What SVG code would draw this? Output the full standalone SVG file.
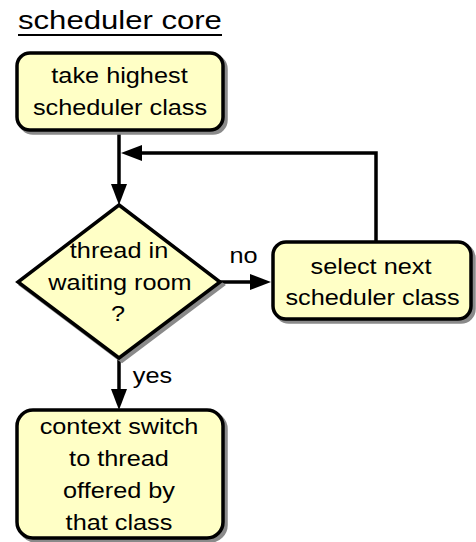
<svg xmlns="http://www.w3.org/2000/svg" width="476" height="542" viewBox="0 0 476 542">
  <defs>
    <marker id="arrow" markerUnits="userSpaceOnUse" markerWidth="21" markerHeight="16" refX="0" refY="8" orient="auto">
      <path d="M0,0 L21,8 L0,16 Z" fill="#000"/>
    </marker>
    <style>
      text { font-family: "Liberation Sans", Arial, sans-serif; font-size: 22px; fill: #000; }
      .c { text-anchor: middle; }
      .box { fill: #ffffc6; stroke: #000; stroke-width: 3.5; }
      .shadow { fill: #8a8a8a; stroke: #8a8a8a; stroke-width: 3.5; }
      .edge { fill: none; stroke: #000; stroke-width: 3.5; }
    </style>
  </defs>
  <rect width="476" height="542" fill="#fff"/>

  <g id="title">
    <text transform="translate(18 29) scale(1.244 1)" style="font-size:25px">scheduler core</text>
    <line x1="18" y1="35" x2="222" y2="35" stroke="#000" stroke-width="2"/>
  </g>

  <g id="connectors">
    <path class="edge" d="M119,131 V184" marker-end="url(#arrow)"/>
    <path class="edge" d="M376,242 V153 H142" marker-end="url(#arrow)"/>
    <path class="edge" d="M220,282 H250" marker-end="url(#arrow)"/>
    <path class="edge" d="M119,358 V389" marker-end="url(#arrow)"/>
  </g>

  <g id="take-highest">
    <rect class="shadow" x="20" y="56" width="206" height="77" rx="13"/>
    <rect class="box" x="17" y="53" width="206" height="77" rx="13"/>
    <text class="c" transform="translate(119.5 83) scale(1.15 1)">take highest</text>
    <text class="c" transform="translate(120 115) scale(1.15 1)">scheduler class</text>
  </g>

  <g id="decision">
    <polygon class="shadow" points="122,208 223,285 122,361 21,285"/>
    <polygon class="box" points="119,205 220,282 119,358 18,282"/>
    <text class="c" transform="translate(119 258) scale(1.15 1)">thread in</text>
    <text class="c" transform="translate(120 290) scale(1.15 1)">waiting room</text>
    <text class="c" transform="translate(118 321) scale(1.15 1)">?</text>
  </g>

  <g id="labels">
    <text class="c" transform="translate(243.5 263) scale(1.15 1)">no</text>
    <text class="c" transform="translate(152.5 383) scale(1.15 1)">yes</text>
  </g>

  <g id="select-next">
    <rect class="shadow" x="276" y="245" width="198" height="77" rx="13"/>
    <rect class="box" x="273" y="242" width="198" height="77" rx="13"/>
    <text class="c" transform="translate(371 274) scale(1.15 1)">select next</text>
    <text class="c" transform="translate(372.5 305) scale(1.15 1)">scheduler class</text>
  </g>

  <g id="context-switch">
    <rect class="shadow" x="20" y="413" width="206" height="128" rx="16"/>
    <rect class="box" x="17" y="410" width="206" height="128" rx="16"/>
    <text class="c" transform="translate(119 434) scale(1.15 1)">context switch</text>
    <text class="c" transform="translate(119 466) scale(1.15 1)">to thread</text>
    <text class="c" transform="translate(119 498) scale(1.15 1)">offered by</text>
    <text class="c" transform="translate(119 530) scale(1.15 1)">that class</text>
  </g>
</svg>
